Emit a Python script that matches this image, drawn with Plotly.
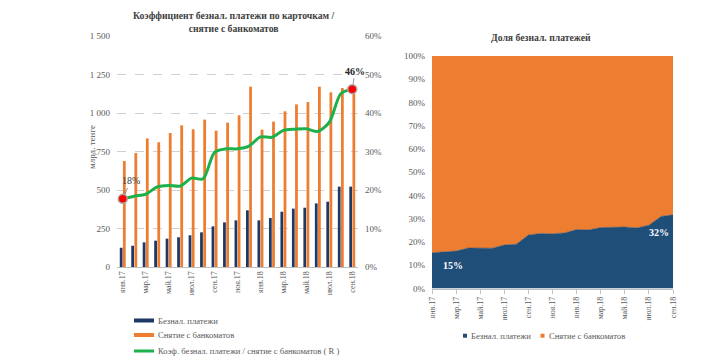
import plotly.graph_objects as go

months = ["янв.17", "фев.17", "мар.17", "апр.17", "май.17", "июн.17", "июл.17",
          "авг.17", "сен.17", "окт.17", "ноя.17", "дек.17", "янв.18", "фев.18",
          "мар.18", "апр.18", "май.18", "июн.18", "июл.18", "авг.18", "сен.18"]
cashless = [125, 138, 160, 171, 184, 193, 206, 225, 264, 290, 303, 368, 303, 318,
            359, 379, 385, 413, 424, 522, 522]
atm = [688, 740, 835, 810, 870, 920, 894, 957, 885, 937, 985, 1171, 892, 944,
       1011, 1056, 1071, 1171, 1134, 1162, 1126]
ratio = [0.177, 0.184, 0.189, 0.208, 0.212, 0.210, 0.231, 0.229, 0.298, 0.307, 0.307,
         0.314, 0.338, 0.337, 0.355, 0.358, 0.359, 0.352, 0.376, 0.450, 0.462]
left_ticks = [0, 250, 500, 750, 1000, 1250, 1500]
left_ticktext = ["0", "250", "500", "750", "1 000", "1 250", "1 500"]
legend_left = ["Безнал. платежи", "Снятие с банкоматов",
               "Коэф. безнал. платежи / снятие с банкоматов ( R )"]
legend_right = ["Безнал. платежи", "Снятие с банкоматов"]

NAVY = "#1f3864"
NAVY2 = "#1f4e79"
ORANGE = "#ed7d31"
GREEN = "#1db04b"
FONT = "Liberation Serif"
GREY = "#595959"
W, H = 720, 363
OFF = 8  # page body margin

def px(v):
    return (v - OFF) / W

def py(v):
    return 1 - (v - OFF) / H

x = list(range(len(months)))
tickvals = x[::2]
ticktext = months[::2]

fig = go.Figure()

# Left chart bars
fig.add_trace(go.Bar(x=x, y=cashless, marker=dict(color=NAVY, line=dict(width=0)),
                     name=legend_left[0], xaxis="x", yaxis="y"))
fig.add_trace(go.Bar(x=x, y=atm, marker=dict(color=ORANGE, line=dict(width=0)),
                     name=legend_left[1], xaxis="x", yaxis="y"))
# Ratio line
fig.add_trace(go.Scatter(x=x, y=ratio, mode="lines",
                         line=dict(color=GREEN, width=3, shape="spline", smoothing=0.8),
                         name=legend_left[2], xaxis="x", yaxis="y2"))
fig.add_trace(go.Scatter(x=[x[0], x[-1]], y=[ratio[0], ratio[-1]], mode="markers",
                         marker=dict(color="#ff0000", size=9, line=dict(color="#a6a6a6", width=1.5)),
                         xaxis="x", yaxis="y2", hoverinfo="skip"))

# Right chart stacked area (100%)
fig.add_trace(go.Scatter(x=x, y=cashless, stackgroup="s", groupnorm="percent", mode="lines",
                         line=dict(width=0.5, color=NAVY2), fillcolor=NAVY2,
                         xaxis="x2", yaxis="y3", name=legend_right[0]))
fig.add_trace(go.Scatter(x=x, y=atm, stackgroup="s", mode="lines",
                         line=dict(width=0.5, color=ORANGE), fillcolor=ORANGE,
                         xaxis="x2", yaxis="y3", name=legend_right[1]))

tickfont = dict(family=FONT, size=9, color=GREY)
xtickfont = dict(family=FONT, size=8, color=GREY)

fig.update_layout(
    width=W, height=H,
    margin=dict(l=0, r=0, t=0, b=0, autoexpand=False),
    paper_bgcolor="white", plot_bgcolor="white",
    font=dict(family=FONT, size=9, color=GREY),
    showlegend=False,
    barmode="group", bargap=0.45, bargroupgap=0.12,
    xaxis=dict(domain=[px(117), px(358)], range=[-0.5, 20.5], tickvals=tickvals, ticktext=ticktext,
               tickangle=-90, tickfont=xtickfont, showgrid=False, zeroline=False,
               showline=True, linecolor="#bfbfbf", linewidth=1, anchor="y", ticks=""),
    yaxis=dict(domain=[py(267), py(36)], range=[0, 1500], tickvals=left_ticks, ticktext=left_ticktext,
               tickfont=tickfont, showgrid=True, gridcolor="#d0d0d0", griddash="dash", gridwidth=1,
               zeroline=False, showline=False, anchor="x", ticklabelstandoff=6),
    yaxis2=dict(domain=[py(267), py(36)], range=[0, 0.6], dtick=0.1, tickformat=".0%",
                tickfont=tickfont, overlaying="y", side="right", showgrid=False, zeroline=False,
                anchor="x", ticklabelstandoff=6),
    xaxis2=dict(domain=[px(432), px(673)], range=[0, 20], tickvals=tickvals, ticktext=ticktext,
                tickangle=-90, tickfont=xtickfont, showgrid=False, zeroline=False,
                showline=True, linecolor="#bfbfbf", ticks="outside", ticklen=4, tickcolor="#bfbfbf",
                anchor="y3"),
    yaxis3=dict(domain=[py(288.5), py(56)], range=[0, 100], dtick=10, ticksuffix="%",
                tickfont=tickfont, showgrid=False, zeroline=False, showline=False, anchor="x2",
                ticklabelstandoff=6),
)

legfont = dict(family=FONT, size=8.6, color=GREY)
annotations = [
    dict(text="<b>Коэффициент безнал. платежи по карточкам /<br>снятие с банкоматов</b>",
         x=px(234), y=py(22), xref="paper", yref="paper", showarrow=False,
         font=dict(family=FONT, size=9.7, color="#404040"), xanchor="center", yanchor="middle"),
    dict(text="<b>Доля безнал. платежей</b>", x=px(541), y=py(37), xref="paper", yref="paper",
         showarrow=False, font=dict(family=FONT, size=9.7, color="#404040"),
         xanchor="center", yanchor="middle"),
    dict(text="млрд. тенге", x=px(85), y=py(147), xref="paper", yref="paper", textangle=-90,
         showarrow=False, font=dict(family=FONT, size=9, color=GREY)),
    dict(text="18%", x=x[0], y=ratio[0], xref="x", yref="y2", showarrow=True, ax=8, ay=-18,
         arrowhead=0, arrowwidth=0.8, arrowcolor="#7f7f7f", standoff=5,
         font=dict(family=FONT, size=10, color="#404040")),
    dict(text="<b>46%</b>", x=x[-1], y=ratio[-1], xref="x", yref="y2", showarrow=True, ax=3, ay=-18,
         arrowhead=0, arrowwidth=0.8, arrowcolor="#7f7f7f", standoff=5,
         font=dict(family=FONT, size=10, color="#262626")),
    dict(text="<b>15%</b>", x=1.74, y=10.1, xref="x2", yref="y3", showarrow=False,
         font=dict(family=FONT, size=10, color="white")),
    dict(text="<b>32%</b>", x=18.8, y=23.9, xref="x2", yref="y3", showarrow=False,
         font=dict(family=FONT, size=10, color="white")),
]

shapes = []
# Left legend (manual)
for name, col, w, yy in zip(legend_left, [NAVY, ORANGE, GREEN], [4, 4, 3], [320.5, 335, 351]):
    shapes.append(dict(type="line", xref="paper", yref="paper", x0=px(134), x1=px(154),
                       y0=py(yy), y1=py(yy), line=dict(color=col, width=w)))
    annotations.append(dict(text=name, x=px(156), y=py(yy), xref="paper", yref="paper",
                            xanchor="left", yanchor="middle", showarrow=False, font=legfont))
# Right legend (manual)
for name, col, xx in zip(legend_right, [NAVY2, ORANGE], [465, 542.5]):
    shapes.append(dict(type="rect", xref="paper", yref="paper", x0=px(xx - 2), x1=px(xx + 2),
                       y0=py(337.7), y1=py(333.7), fillcolor=col, line=dict(width=0)))
    annotations.append(dict(text=name, x=px(xx + 4), y=py(335.7), xref="paper", yref="paper",
                            xanchor="left", yanchor="middle", showarrow=False, font=legfont))

fig.update_layout(annotations=annotations, shapes=shapes)

fig.write_html("out.html")
